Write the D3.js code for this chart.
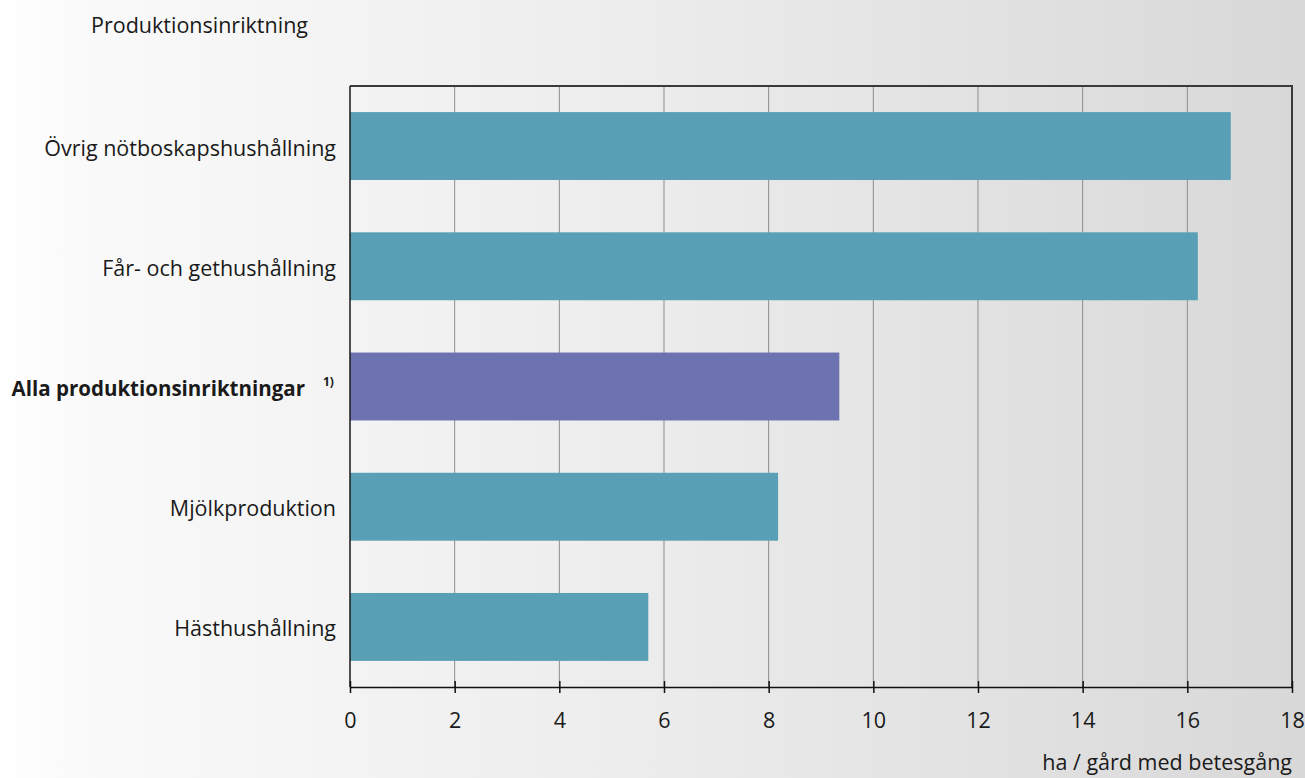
<!DOCTYPE html>
<html>
<head>
<meta charset="utf-8">
<script src="https://cdn.jsdelivr.net/npm/d3@7"></script>
<style>
  html, body { margin: 0; padding: 0; }
  body { width: 1305px; height: 778px; overflow: hidden; }
  svg { display: block; font-family: "Open Sans", "Noto Sans", sans-serif; }
</style>
</head>
<body>
<svg id="chart" width="1305" height="778"></svg>
<script>
// Betesmark per gård efter produktionsinriktning
const categories = [
  "Övrig nötboskapshushållning",
  "Får- och gethushållning",
  "Alla produktionsinriktningar",
  "Mjölkproduktion",
  "Hästhushållning"
];
const values = [16.83, 16.2, 9.35, 8.18, 5.7];
const highlighted = ["Alla produktionsinriktningar"];
const xTicks = [0, 2, 4, 6, 8, 10, 12, 14, 16, 18];

const W = 1305, H = 778;
const margin = { left: 350, right: 13, top: 86, bottom: 91 };
const FS = 21.5;
const svg = d3.select("#chart");

// background wash, white on the left fading to light grey
const defs = svg.append("defs");
const grad = defs.append("linearGradient").attr("id", "bg").attr("x1", "0").attr("x2", "1").attr("y1", "0").attr("y2", "0");
grad.append("stop").attr("offset", "0").attr("stop-color", "#ffffff");
grad.append("stop").attr("offset", "0.06").attr("stop-color", "#fafafa");
grad.append("stop").attr("offset", "0.5").attr("stop-color", "#ececec");
grad.append("stop").attr("offset", "1").attr("stop-color", "#d8d8d8");
svg.append("rect").attr("width", W).attr("height", H).attr("fill", "url(#bg)");

const x = d3.scaleLinear().domain([0, 18]).range([margin.left, W - margin.right]);
const y = d3.scaleBand().domain(categories).range([margin.top, H - margin.bottom]).paddingInner(0.435).paddingOuter(0.217);

// vertical gridlines
svg.append("g").selectAll("line").data(xTicks.slice(1, -1)).join("line")
  .attr("x1", d => x(d)).attr("x2", d => x(d))
  .attr("y1", margin.top).attr("y2", H - margin.bottom)
  .attr("stroke", "#8c8c8c").attr("stroke-width", 1);

// bars
svg.append("g").selectAll("rect").data(categories).join("rect")
  .attr("x", x(0))
  .attr("y", d => y(d))
  .attr("width", (d, i) => x(values[i]) - x(0))
  .attr("height", y.bandwidth())
  .attr("fill", d => highlighted.includes(d) ? "#6d72b0" : "#59a0b6");

// frame: top and right edges
svg.append("path")
  .attr("d", `M${x(0)},${margin.top}H${x(18)}V${H - margin.bottom}`)
  .attr("fill", "none").attr("stroke", "#3a3a3a").attr("stroke-width", 2);
// left axis line
svg.append("line").attr("x1", x(0)).attr("x2", x(0)).attr("y1", margin.top).attr("y2", H - margin.bottom)
  .attr("stroke", "#1a1a1a").attr("stroke-width", 1.5);

// x axis
const xAxis = svg.append("g").attr("transform", `translate(0,${H - margin.bottom})`)
  .call(d3.axisBottom(x).tickValues(xTicks).tickSize(6).tickPadding(20).tickSizeOuter(0));
xAxis.select(".domain").attr("stroke", "#111").attr("stroke-width", 1.5);
xAxis.selectAll(".tick line").attr("stroke", "#111").attr("stroke-width", 1.5).attr("y1", -6);
xAxis.selectAll(".tick text").attr("font-size", FS).attr("fill", "#1a1a1a")
  .attr("font-family", "\"Open Sans\", sans-serif");

// category labels
svg.append("g").selectAll("text").data(categories).join("text")
  .attr("x", d => highlighted.includes(d) ? x(0) - 45 : x(0) - 14)
  .attr("y", d => y(d) + y.bandwidth() / 2 + 2)
  .attr("dy", "0.35em")
  .attr("text-anchor", "end")
  .attr("font-size", d => highlighted.includes(d) ? FS - 1 : FS)
  .attr("font-weight", d => highlighted.includes(d) ? 700 : 400)
  .attr("fill", "#1a1a1a")
  .text(d => d);

// footnote marker after the highlighted category
svg.append("g").selectAll("text").data(highlighted).join("text")
  .attr("x", x(0) - 27)
  .attr("y", d => y(d) + y.bandwidth() / 2 - 1)
  .attr("font-size", 12).attr("font-weight", 700).attr("fill", "#1a1a1a")
  .text("1)");

// axis titles
svg.append("text").attr("x", 91).attr("y", 33).attr("font-size", FS).attr("fill", "#1a1a1a")
  .text("Produktionsinriktning");
svg.append("text").attr("x", x(18)).attr("y", 770).attr("text-anchor", "end").attr("font-size", FS).attr("fill", "#1a1a1a")
  .text("ha / gård med betesgång");
</script>
</body>
</html>
